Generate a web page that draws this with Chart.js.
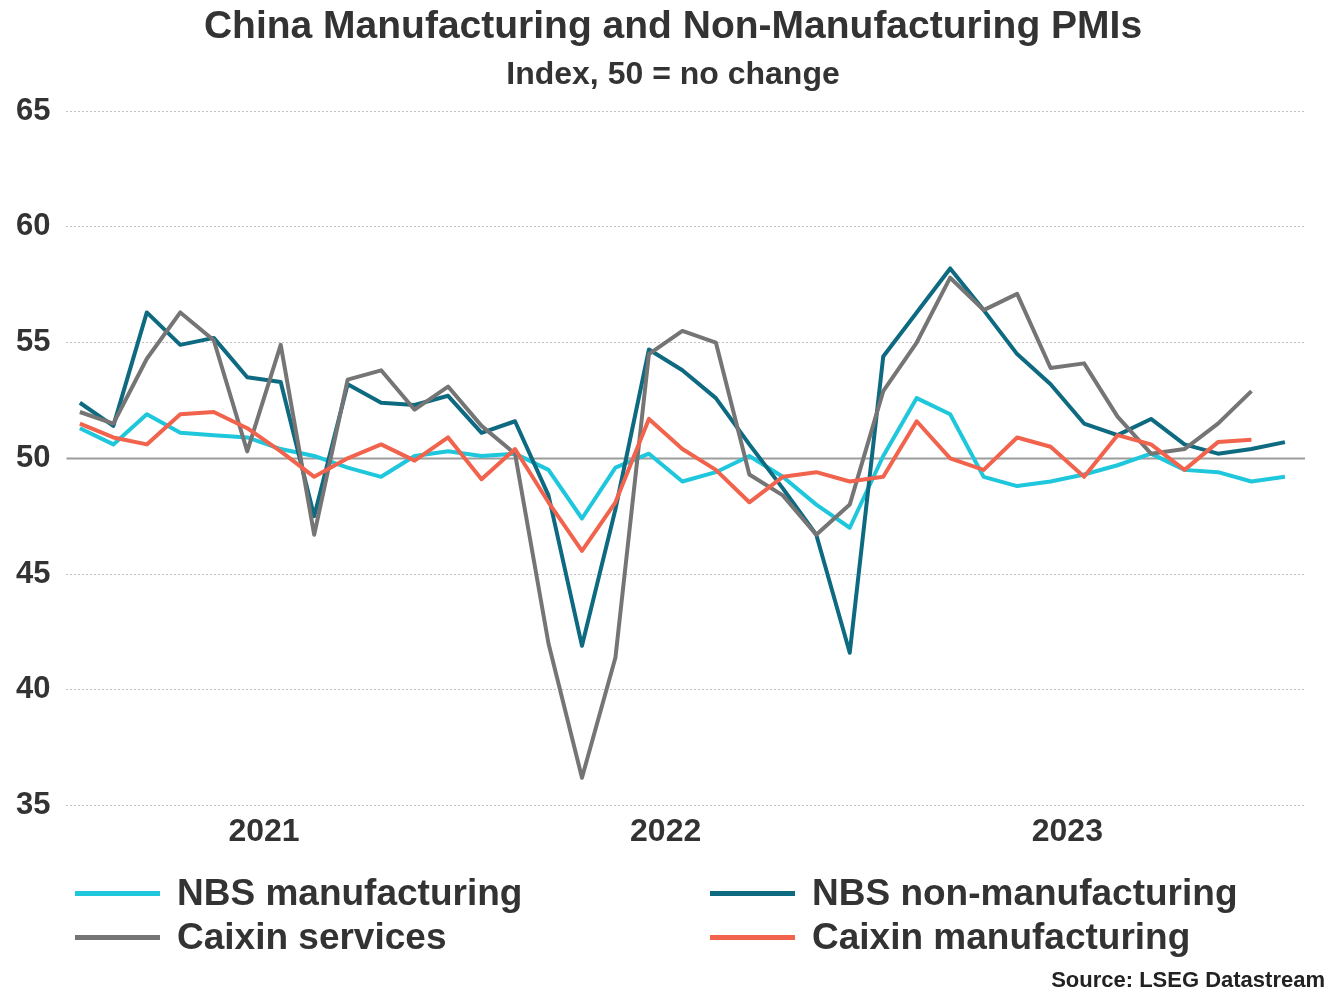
<!DOCTYPE html>
<html>
<head>
<meta charset="utf-8">
<script src="https://cdn.jsdelivr.net/npm/chart.js@4/dist/chart.umd.min.js"></script>
<style>
  html, body { margin: 0; padding: 0; background: #ffffff; }
  #wrap { position: relative; width: 1330px; height: 990px; font-family: "Liberation Sans", Arial, sans-serif; }
  #wrap canvas { position: absolute; left: 0; top: 0; }
  .heading { position: absolute; left: 0; width: 1346px; text-align: center; font-weight: bold; color: #333333; line-height: 1.2; white-space: nowrap; }
  #title { top: 2px; font-size: 39px; }
  #subtitle { top: 54px; font-size: 32px; }
  .key { position: absolute; height: 44px; display: flex; align-items: center; font-weight: bold; font-size: 37px; color: #333333; white-space: nowrap; }
  .key i { display: inline-block; width: 85px; height: 5px; margin-right: 17px; }
  #source { position: absolute; right: 5px; top: 967px; font-weight: bold; font-size: 22px; color: #222222; }
</style>
</head>
<body>
<div id="wrap">
  <canvas id="pmi" width="1330" height="990"></canvas>
  <div class="heading" id="title">China Manufacturing and Non-Manufacturing PMIs</div>
  <div class="heading" id="subtitle">Index, 50 = no change</div>
  <div class="key" style="left:75px; top:871px;"><i style="background:#1fc7dc"></i>NBS manufacturing</div>
  <div class="key" style="left:710px; top:871px;"><i style="background:#0d6a80"></i>NBS non-manufacturing</div>
  <div class="key" style="left:75px; top:915px;"><i style="background:#757575"></i>Caixin services</div>
  <div class="key" style="left:710px; top:915px;"><i style="background:#f1634c"></i>Caixin manufacturing</div>
  <div id="source">Source: LSEG Datastream</div>
</div>
<script>
// Monthly readings, Jan 2021 onwards
const nbsManufacturing = [
  51.3, 50.6, 51.9, 51.1, 51.0, 50.9, 50.4, 50.1, 49.6, 49.2, 50.1, 50.3,
  50.1, 50.2, 49.5, 47.4, 49.6, 50.2, 49.0, 49.4, 50.1, 49.2, 48.0, 47.0,
  50.1, 52.6, 51.9, 49.2, 48.8, 49.0, 49.3, 49.7, 50.2, 49.5, 49.4, 49.0,
  49.2
];
const nbsNonManufacturing = [
  52.4, 51.4, 56.3, 54.9, 55.2, 53.5, 53.3, 47.5, 53.2, 52.4, 52.3, 52.7,
  51.1, 51.6, 48.4, 41.9, 47.8, 54.7, 53.8, 52.6, 50.6, 48.7, 46.7, 41.6,
  54.4, 56.3, 58.2, 56.4, 54.5, 53.2, 51.5, 51.0, 51.7, 50.6, 50.2, 50.4,
  50.7
];
const caixinServices = [
  52.0, 51.5, 54.3, 56.3, 55.1, 50.3, 54.9, 46.7, 53.4, 53.8, 52.1, 53.1,
  51.4, 50.2, 42.0, 36.2, 41.4, 54.5, 55.5, 55.0, 49.3, 48.4, 46.7, 48.0,
  52.9, 55.0, 57.8, 56.4, 57.1, 53.9, 54.1, 51.8, 50.2, 50.4, 51.5, 52.9
];
const caixinManufacturing = [
  51.5, 50.9, 50.6, 51.9, 52.0, 51.3, 50.3, 49.2, 50.0, 50.6, 49.9, 50.9,
  49.1, 50.4, 48.1, 46.0, 48.1, 51.7, 50.4, 49.5, 48.1, 49.2, 49.4, 49.0,
  49.2, 51.6, 50.0, 49.5, 50.9, 50.5, 49.2, 51.0, 50.6, 49.5, 50.7, 50.8
];
const yearLabels = ['2021', '2022', '2023'];
// year labels sit mid-year (between June and July, month index from Jan 2021)
const yearLabelPositions = [5.5, 17.5, 29.5];

const toPoints = arr => arr.map((v, i) => ({ x: i, y: v }));

// solid reference line at 50 = no change
const noChangeLine = {
  id: 'noChangeLine',
  beforeDatasetsDraw(chart) {
    const { ctx, chartArea, scales } = chart;
    const y = Math.round(scales.y.getPixelForValue(50)) + 0.5;
    ctx.save();
    ctx.strokeStyle = '#9c9c9c';
    ctx.lineWidth = 2;
    ctx.beginPath();
    ctx.moveTo(chartArea.left, y);
    ctx.lineTo(chartArea.right, y);
    ctx.stroke();
    ctx.restore();
  }
};

const FONT = "'Liberation Sans', Arial, sans-serif";

new Chart(document.getElementById('pmi'), {
  type: 'line',
  data: {
    datasets: [
      { label: 'NBS manufacturing', data: toPoints(nbsManufacturing), borderColor: '#1fc7dc', order: 4 },
      { label: 'NBS non-manufacturing', data: toPoints(nbsNonManufacturing), borderColor: '#0d6a80', order: 3 },
      { label: 'Caixin services', data: toPoints(caixinServices), borderColor: '#757575', order: 2 },
      { label: 'Caixin manufacturing', data: toPoints(caixinManufacturing), borderColor: '#f1634c', order: 1 }
    ]
  },
  options: {
    responsive: false,
    animation: false,
    events: [],
    datasets: {
      line: { borderWidth: 4, pointRadius: 0, tension: 0, borderJoinStyle: 'round', borderCapStyle: 'butt', fill: false }
    },
    layout: { padding: { left: 0, right: 25, top: 111, bottom: 132 } },
    plugins: {
      legend: { display: false },
      tooltip: { enabled: false },
      title: { display: false },
      subtitle: { display: false }
    },
    scales: {
      x: {
        type: 'linear',
        min: -0.4,
        max: 36.6,
        grid: { display: false, drawTicks: false },
        border: { display: false },
        afterBuildTicks: scale => { scale.ticks = yearLabelPositions.map(v => ({ value: v })); },
        ticks: {
          autoSkip: false,
          maxRotation: 0,
          padding: 7,
          color: '#333333',
          font: { family: FONT, size: 32, weight: 'bold' },
          callback: (value, index) => yearLabels[index]
        }
      },
      y: {
        min: 35,
        max: 65,
        grid: {
          drawTicks: false,
          lineWidth: 1,
          color: ctx => (ctx.tick && ctx.tick.value === 50) ? 'rgba(0,0,0,0)' : '#c2c2c2'
        },
        border: { display: false, dash: [2, 2] },
        ticks: {
          stepSize: 5,
          padding: 16,
          color: '#333333',
          font: { family: FONT, size: 31, weight: 'bold' }
        }
      }
    }
  },
  plugins: [noChangeLine]
});
</script>
</body>
</html>
